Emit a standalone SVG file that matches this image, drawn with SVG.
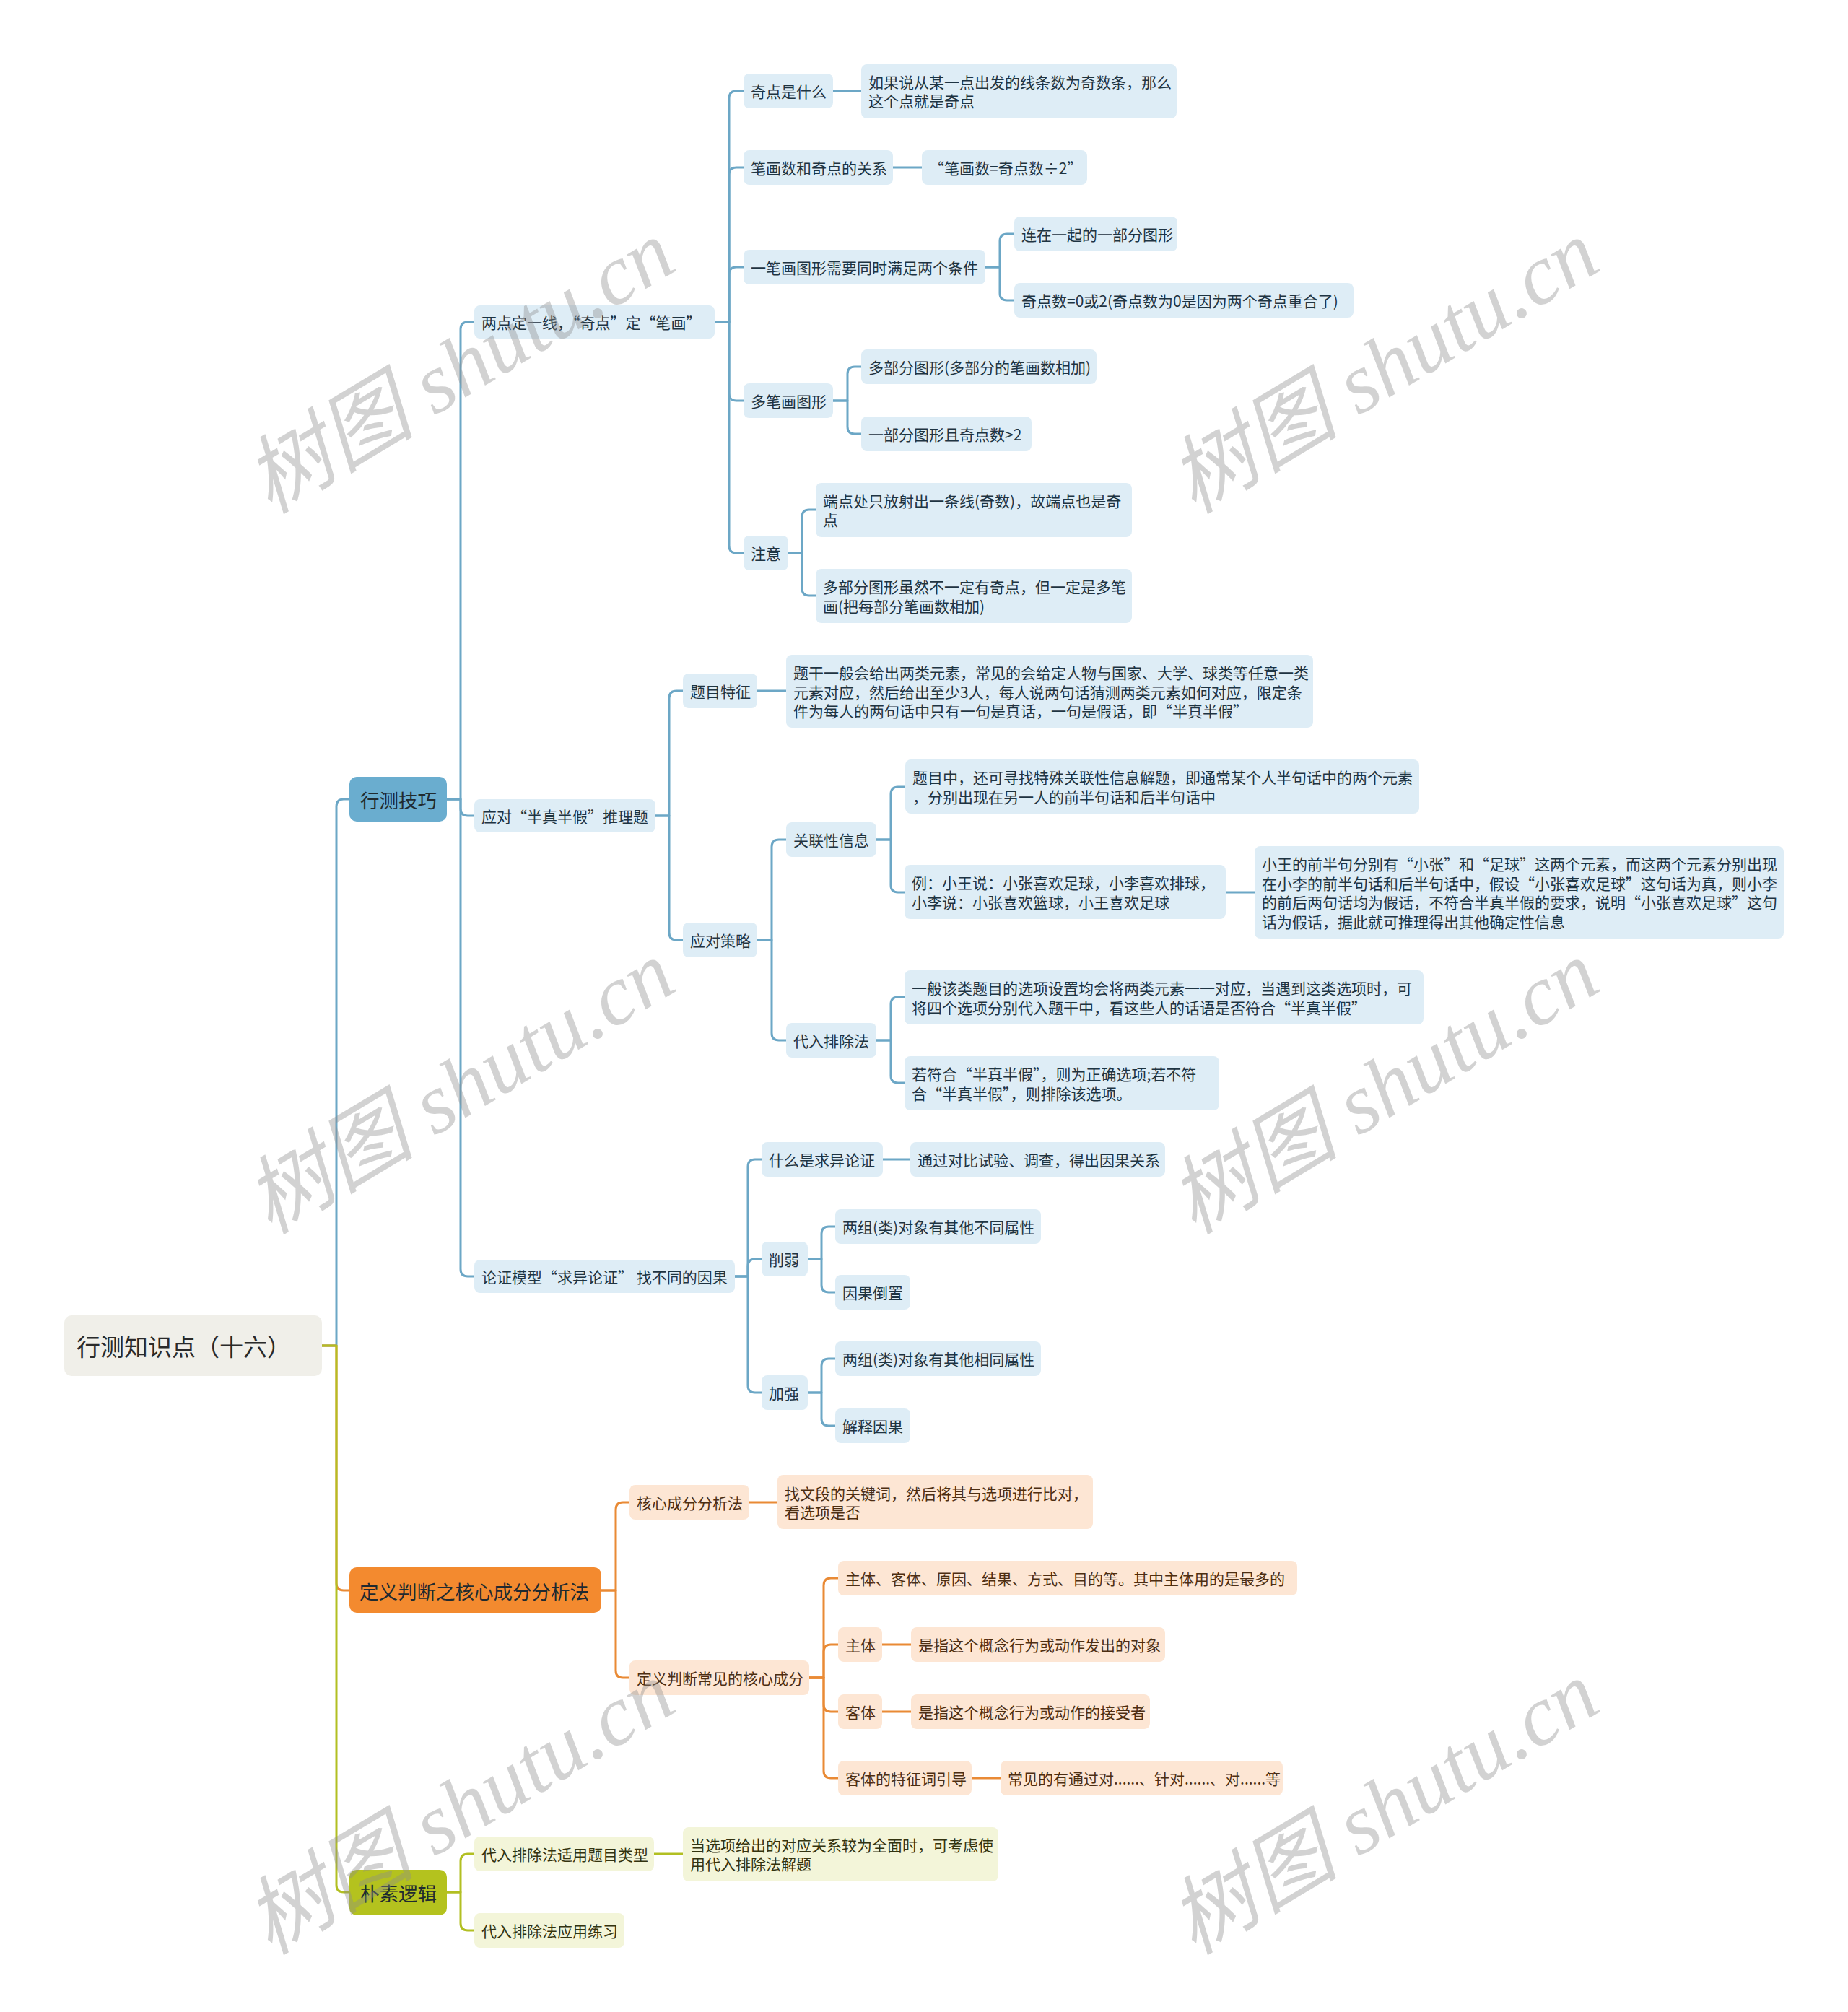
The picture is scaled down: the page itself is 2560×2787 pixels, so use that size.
<svg xmlns="http://www.w3.org/2000/svg" width="2560" height="2787" viewBox="0 0 2560 2787">
<style>
text{font-family:"Noto Sans CJK SC","Microsoft YaHei",sans-serif;font-size:21px;dominant-baseline:central}
.nb{fill:#DEEDF6}.no{fill:#FDE6D4}.ng{fill:#F3F5D9}
.tb{fill:#1E3442}.to{fill:#4D2E12}.tg{fill:#33330F}
.c path{fill:none;stroke-width:3;stroke-linejoin:round}
.cb path{stroke:#6CA7C6}.co path{stroke:#E98A35}.cg path{stroke:#B2BF22}
.l1{font-size:26.5px;fill:#1F2A30}
.wm{font-family:"Liberation Serif","Noto Sans CJK SC",serif;font-style:italic;font-size:118px;fill:#8C8C8C;opacity:0.38;dominant-baseline:auto}
</style>
<rect width="2560" height="2787" fill="#FFFFFF"/>
<g id="connectors" class="c">
<g class="cb">
<path d="M446,1864 H466 V1117 Q466,1107 476,1107 H484"/>
<path d="M619,1107 H638 V456 Q638,446 648,446 H657"/>
<path d="M619,1107 H638 V1120 Q638,1130 648,1130 H657"/>
<path d="M619,1107 H638 V1758 Q638,1768 648,1768 H657"/>
<path d="M990,446 H1010 V136 Q1010,126 1020,126 H1030"/>
<path d="M990,446 H1010 V242 Q1010,232 1020,232 H1030"/>
<path d="M990,446 H1010 V380 Q1010,370 1020,370 H1030"/>
<path d="M990,446 H1010 V545 Q1010,555 1020,555 H1030"/>
<path d="M990,446 H1010 V756 Q1010,766 1020,766 H1030"/>
<path d="M1154,126 H1193"/>
<path d="M1237,232 H1277"/>
<path d="M1365,370 H1385 V334 Q1385,324 1395,324 H1405"/>
<path d="M1365,370 H1385 V406 Q1385,416 1395,416 H1405"/>
<path d="M1154,555 H1174 V518 Q1174,508 1184,508 H1193"/>
<path d="M1154,555 H1174 V591 Q1174,601 1184,601 H1193"/>
<path d="M1092,766 H1111 V716 Q1111,706 1121,706 H1130"/>
<path d="M1092,766 H1111 V815 Q1111,825 1121,825 H1130"/>
<path d="M908,1130 H927 V967 Q927,957 937,957 H946"/>
<path d="M908,1130 H927 V1292 Q927,1302 937,1302 H946"/>
<path d="M1049,957 H1089"/>
<path d="M1049,1302 H1069 V1173 Q1069,1163 1079,1163 H1089"/>
<path d="M1049,1302 H1069 V1431 Q1069,1441 1079,1441 H1089"/>
<path d="M1214,1163 H1234 V1100 Q1234,1090 1244,1090 H1254"/>
<path d="M1214,1163 H1234 V1226 Q1234,1236 1244,1236 H1253"/>
<path d="M1698,1236 H1738"/>
<path d="M1214,1441 H1234 V1391 Q1234,1381 1244,1381 H1253"/>
<path d="M1214,1441 H1234 V1490 Q1234,1500 1244,1500 H1253"/>
<path d="M1018,1768 H1036 V1616 Q1036,1606 1046,1606 H1055"/>
<path d="M1018,1768 H1036 V1754 Q1036,1744 1046,1744 H1055"/>
<path d="M1018,1768 H1036 V1919 Q1036,1929 1046,1929 H1055"/>
<path d="M1223,1606 H1261"/>
<path d="M1119,1744 H1138 V1709 Q1138,1699 1148,1699 H1157"/>
<path d="M1119,1744 H1138 V1780 Q1138,1790 1148,1790 H1157"/>
<path d="M1119,1929 H1138 V1892 Q1138,1882 1148,1882 H1157"/>
<path d="M1119,1929 H1138 V1965 Q1138,1975 1148,1975 H1157"/>
</g>
<g class="co">
<path d="M446,1864 H466 V2193 Q466,2203 476,2203 H484"/>
<path d="M833,2203 H853 V2091 Q853,2081 863,2081 H872"/>
<path d="M833,2203 H853 V2314 Q853,2324 863,2324 H872"/>
<path d="M1038,2081 H1077"/>
<path d="M1121,2324 H1141 V2196 Q1141,2186 1151,2186 H1161"/>
<path d="M1121,2324 H1141 V2288 Q1141,2278 1151,2278 H1161"/>
<path d="M1121,2324 H1141 V2361 Q1141,2371 1151,2371 H1161"/>
<path d="M1121,2324 H1141 V2453 Q1141,2463 1151,2463 H1161"/>
<path d="M1222,2278 H1262"/>
<path d="M1222,2371 H1262"/>
<path d="M1346,2463 H1386"/>
</g>
<g class="cg">
<path d="M446,1864 H466 V2611 Q466,2621 476,2621 H484"/>
<path d="M619,2621 H638 V2578 Q638,2568 648,2568 H657"/>
<path d="M619,2621 H638 V2664 Q638,2674 648,2674 H657"/>
<path d="M906,2568 H946"/>
</g>
</g>
<g id="root"><rect x="89" y="1822" width="357" height="84" rx="10" fill="#F0EFE9"/><text x="106" y="1864" style="font-size:33px" fill="#2A2A2A">行测知识点（十六）</text></g>
<g id="n_xcjq"><rect x="484" y="1076" width="135" height="62" rx="10" fill="#6AADCF"/><text class="l1" x="499" y="1107">行测技巧</text></g>
<g id="n_A"><rect class="nb" x="657" y="423" width="333" height="46" rx="8"/><text class="tb" x="667" y="446">两点定一线，“奇点”定“笔画”</text></g>
<g id="n_A1"><rect class="nb" x="1030" y="102" width="124" height="48" rx="8"/><text class="tb" x="1040" y="126">奇点是什么</text></g>
<g id="n_A1a"><rect class="nb" x="1193" y="89" width="437" height="75" rx="8"/><text class="tb" x="1203" y="112.7">如果说从某一点出发的线条数为奇数条，那么</text><text class="tb" x="1203" y="139.3">这个点就是奇点</text></g>
<g id="n_A2"><rect class="nb" x="1030" y="208" width="207" height="48" rx="8"/><text class="tb" x="1040" y="232">笔画数和奇点的关系</text></g>
<g id="n_A2a"><rect class="nb" x="1277" y="208" width="229" height="48" rx="8"/><text class="tb" x="1287" y="232">“笔画数=奇点数÷2”</text></g>
<g id="n_A3"><rect class="nb" x="1030" y="346" width="335" height="48" rx="8"/><text class="tb" x="1040" y="370">一笔画图形需要同时满足两个条件</text></g>
<g id="n_A3a"><rect class="nb" x="1405" y="300" width="226" height="48" rx="8"/><text class="tb" x="1415" y="324">连在一起的一部分图形</text></g>
<g id="n_A3b"><rect class="nb" x="1405" y="392" width="470" height="48" rx="8"/><text class="tb" x="1415" y="416">奇点数=0或2(奇点数为0是因为两个奇点重合了)</text></g>
<g id="n_A4"><rect class="nb" x="1030" y="531" width="124" height="48" rx="8"/><text class="tb" x="1040" y="555">多笔画图形</text></g>
<g id="n_A4a"><rect class="nb" x="1193" y="484" width="326" height="48" rx="8"/><text class="tb" x="1203" y="508">多部分图形(多部分的笔画数相加)</text></g>
<g id="n_A4b"><rect class="nb" x="1193" y="577" width="236" height="48" rx="8"/><text class="tb" x="1203" y="601">一部分图形且奇点数&gt;2</text></g>
<g id="n_A5"><rect class="nb" x="1030" y="742" width="62" height="48" rx="8"/><text class="tb" x="1040" y="766">注意</text></g>
<g id="n_A5a"><rect class="nb" x="1130" y="669" width="438" height="75" rx="8"/><text class="tb" x="1140" y="692.7">端点处只放射出一条线(奇数)，故端点也是奇</text><text class="tb" x="1140" y="719.3">点</text></g>
<g id="n_A5b"><rect class="nb" x="1130" y="788" width="438" height="75" rx="8"/><text class="tb" x="1140" y="812.2">多部分图形虽然不一定有奇点，但一定是多笔</text><text class="tb" x="1140" y="838.8">画(把每部分笔画数相加)</text></g>
<g id="n_B"><rect class="nb" x="657" y="1107" width="251" height="46" rx="8"/><text class="tb" x="667" y="1130">应对“半真半假”推理题</text></g>
<g id="n_B1"><rect class="nb" x="946" y="933" width="103" height="48" rx="8"/><text class="tb" x="956" y="957">题目特征</text></g>
<g id="n_B1a"><rect class="nb" x="1089" y="907" width="730" height="101" rx="8"/><text class="tb" x="1099" y="931">题干一般会给出两类元素，常见的会给定人物与国家、大学、球类等任意一类</text><text class="tb" x="1099" y="957.5">元素对应，然后给出至少3人，每人说两句话猜测两类元素如何对应，限定条</text><text class="tb" x="1099" y="984">件为每人的两句话中只有一句是真话，一句是假话，即“半真半假”</text></g>
<g id="n_B2"><rect class="nb" x="946" y="1278" width="103" height="48" rx="8"/><text class="tb" x="956" y="1302">应对策略</text></g>
<g id="n_B2a"><rect class="nb" x="1089" y="1139" width="125" height="48" rx="8"/><text class="tb" x="1099" y="1163">关联性信息</text></g>
<g id="n_B2a1"><rect class="nb" x="1254" y="1052" width="712" height="75" rx="8"/><text class="tb" x="1264" y="1076.2">题目中，还可寻找特殊关联性信息解题，即通常某个人半句话中的两个元素</text><text class="tb" x="1264" y="1102.8">，分别出现在另一人的前半句话和后半句话中</text></g>
<g id="n_B2a2"><rect class="nb" x="1253" y="1198" width="445" height="75" rx="8"/><text class="tb" x="1263" y="1222.2">例：小王说：小张喜欢足球，小李喜欢排球，</text><text class="tb" x="1263" y="1248.8">小李说：小张喜欢篮球，小王喜欢足球</text></g>
<g id="n_B2a2x"><rect class="nb" x="1738" y="1172" width="733" height="128" rx="8"/><text class="tb" x="1748" y="1196.2">小王的前半句分别有“小张”和“足球”这两个元素，而这两个元素分别出现</text><text class="tb" x="1748" y="1222.7">在小李的前半句话和后半句话中，假设“小张喜欢足球”这句话为真，则小李</text><text class="tb" x="1748" y="1249.2">的前后两句话均为假话，不符合半真半假的要求，说明“小张喜欢足球”这句</text><text class="tb" x="1748" y="1275.7">话为假话，据此就可推理得出其他确定性信息</text></g>
<g id="n_B2b"><rect class="nb" x="1089" y="1417" width="125" height="48" rx="8"/><text class="tb" x="1099" y="1441">代入排除法</text></g>
<g id="n_B2b1"><rect class="nb" x="1253" y="1344" width="719" height="75" rx="8"/><text class="tb" x="1263" y="1368.2">一般该类题目的选项设置均会将两类元素一一对应，当遇到这类选项时，可</text><text class="tb" x="1263" y="1394.8">将四个选项分别代入题干中，看这些人的话语是否符合“半真半假”</text></g>
<g id="n_B2b2"><rect class="nb" x="1253" y="1463" width="436" height="75" rx="8"/><text class="tb" x="1263" y="1487.2">若符合“半真半假”，则为正确选项;若不符</text><text class="tb" x="1263" y="1513.8">合“半真半假”，则排除该选项。</text></g>
<g id="n_C"><rect class="nb" x="657" y="1745" width="361" height="46" rx="8"/><text class="tb" x="667" y="1768">论证模型“求异论证” 找不同的因果</text></g>
<g id="n_C1"><rect class="nb" x="1055" y="1582" width="168" height="48" rx="8"/><text class="tb" x="1065" y="1606">什么是求异论证</text></g>
<g id="n_C1a"><rect class="nb" x="1261" y="1582" width="353" height="48" rx="8"/><text class="tb" x="1271" y="1606">通过对比试验、调查，得出因果关系</text></g>
<g id="n_C2"><rect class="nb" x="1055" y="1720" width="64" height="48" rx="8"/><text class="tb" x="1065" y="1744">削弱</text></g>
<g id="n_C2a"><rect class="nb" x="1157" y="1675" width="285" height="48" rx="8"/><text class="tb" x="1167" y="1699">两组(类)对象有其他不同属性</text></g>
<g id="n_C2b"><rect class="nb" x="1157" y="1766" width="104" height="48" rx="8"/><text class="tb" x="1167" y="1790">因果倒置</text></g>
<g id="n_C3"><rect class="nb" x="1055" y="1905" width="64" height="48" rx="8"/><text class="tb" x="1065" y="1929">加强</text></g>
<g id="n_C3a"><rect class="nb" x="1157" y="1858" width="285" height="48" rx="8"/><text class="tb" x="1167" y="1882">两组(类)对象有其他相同属性</text></g>
<g id="n_C3b"><rect class="nb" x="1157" y="1951" width="104" height="48" rx="8"/><text class="tb" x="1167" y="1975">解释因果</text></g>
<g id="n_dypd"><rect x="484" y="2171" width="349" height="63" rx="10" fill="#F38A2F"/><text class="l1" x="498" y="2203">定义判断之核心成分分析法</text></g>
<g id="n_O1"><rect class="no" x="872" y="2057" width="166" height="48" rx="8"/><text class="to" x="882" y="2081">核心成分分析法</text></g>
<g id="n_O1a"><rect class="no" x="1077" y="2043" width="437" height="75" rx="8"/><text class="to" x="1087" y="2067.7">找文段的关键词，然后将其与选项进行比对，</text><text class="to" x="1087" y="2094.3">看选项是否</text></g>
<g id="n_O2"><rect class="no" x="872" y="2300" width="249" height="48" rx="8"/><text class="to" x="882" y="2324">定义判断常见的核心成分</text></g>
<g id="n_O2a"><rect class="no" x="1161" y="2162" width="636" height="48" rx="8"/><text class="to" x="1171" y="2186">主体、客体、原因、结果、方式、目的等。其中主体用的是最多的</text></g>
<g id="n_O2b"><rect class="no" x="1161" y="2254" width="61" height="48" rx="8"/><text class="to" x="1171" y="2278">主体</text></g>
<g id="n_O2b1"><rect class="no" x="1262" y="2254" width="352" height="48" rx="8"/><text class="to" x="1272" y="2278">是指这个概念行为或动作发出的对象</text></g>
<g id="n_O2c"><rect class="no" x="1161" y="2347" width="61" height="48" rx="8"/><text class="to" x="1171" y="2371">客体</text></g>
<g id="n_O2c1"><rect class="no" x="1262" y="2347" width="331" height="48" rx="8"/><text class="to" x="1272" y="2371">是指这个概念行为或动作的接受者</text></g>
<g id="n_O2d"><rect class="no" x="1161" y="2439" width="185" height="48" rx="8"/><text class="to" x="1171" y="2463">客体的特征词引导</text></g>
<g id="n_O2d1"><rect class="no" x="1386" y="2439" width="391" height="48" rx="8"/><text class="to" x="1396" y="2463">常见的有通过对......、针对......、对......等</text></g>
<g id="n_psl"><rect x="484" y="2590" width="135" height="63" rx="10" fill="#B4C21E"/><text class="l1" x="499" y="2621">朴素逻辑</text></g>
<g id="n_G1"><rect class="ng" x="657" y="2544" width="249" height="48" rx="8"/><text class="tg" x="667" y="2568">代入排除法适用题目类型</text></g>
<g id="n_G1a"><rect class="ng" x="946" y="2531" width="437" height="75" rx="8"/><text class="tg" x="956" y="2554.7">当选项给出的对应关系较为全面时，可考虑使</text><text class="tg" x="956" y="2581.3">用代入排除法解题</text></g>
<g id="n_G2"><rect class="ng" x="657" y="2650" width="208" height="48" rx="8"/><text class="tg" x="667" y="2674">代入排除法应用练习</text></g>
<g id="watermarks">
<text class="wm" text-anchor="middle" transform="translate(638,510) rotate(-31)" y="38">树图 shutu.cn</text>
<text class="wm" text-anchor="middle" transform="translate(1918,510) rotate(-31)" y="38">树图 shutu.cn</text>
<text class="wm" text-anchor="middle" transform="translate(638,1508) rotate(-31)" y="38">树图 shutu.cn</text>
<text class="wm" text-anchor="middle" transform="translate(1918,1508) rotate(-31)" y="38">树图 shutu.cn</text>
<text class="wm" text-anchor="middle" transform="translate(638,2506) rotate(-31)" y="38">树图 shutu.cn</text>
<text class="wm" text-anchor="middle" transform="translate(1918,2506) rotate(-31)" y="38">树图 shutu.cn</text>
</g>
</svg>
